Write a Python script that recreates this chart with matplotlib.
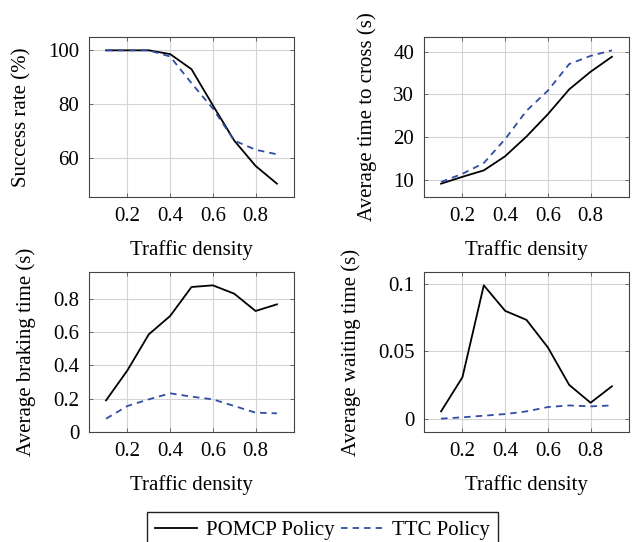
import numpy as np
import matplotlib
matplotlib.use("Agg")
import matplotlib.pyplot as plt

# traffic density on x axis
density = [0.1, 0.2, 0.3, 0.4, 0.5, 0.6, 0.7, 0.8, 0.9]

# success rate (%)
success_pomcp = [100, 100, 100, 98.6, 93.0, 79.6, 66.5, 57.1, 50.5]
success_ttc = [100, 100, 100, 97.7, 87.8, 78.4, 66.5, 63.1, 61.4]

# average time to cross (s)
cross_pomcp = [9.2, 10.8, 12.3, 15.6, 20.2, 25.4, 31.2, 35.3, 38.8]
cross_ttc = [9.6, 11.5, 14.0, 19.6, 26.2, 30.9, 37.1, 39.0, 40.3]

# average braking time (s)
brake_pomcp = [0.19, 0.37, 0.586, 0.696, 0.87, 0.88, 0.83, 0.726, 0.766]
brake_ttc = [0.08, 0.156, 0.196, 0.232, 0.212, 0.196, 0.156, 0.116, 0.112]

# average waiting time (s)
wait_pomcp = [0.0054, 0.0307, 0.0988, 0.0799, 0.0732, 0.0528, 0.025, 0.0118, 0.024]
wait_ttc = [0.0, 0.001, 0.0022, 0.0034, 0.0054, 0.0086, 0.0098, 0.0091, 0.0098]

xticks = [0.2, 0.4, 0.6, 0.8]

plt.rcParams["font.family"] = ["Liberation Serif", "DejaVu Serif"]
plt.rcParams["font.size"] = 15

BLUE = "#2f4ea3"

fig = plt.figure(figsize=(6.32, 5.42), dpi=100)

W, H = 205 / 632, 160 / 542
panels = [
    (89 / 632, 1 - 197 / 542, success_pomcp, success_ttc, "Success rate (%)",
     [60, 80, 100], ["60", "80", "100"], None),
    (424 / 632, 1 - 197 / 542, cross_pomcp, cross_ttc, "Average time to cross (s)",
     [10, 20, 30, 40], ["10", "20", "30", "40"], None),
    (89 / 632, 1 - 432 / 542, brake_pomcp, brake_ttc, "Average braking time (s)",
     [0, 0.2, 0.4, 0.6, 0.8], ["0", "0.2", "0.4", "0.6", "0.8"], (0, 0.96)),
    (424 / 632, 1 - 432 / 542, wait_pomcp, wait_ttc, "Average waiting time (s)",
     [0, 0.05, 0.1], ["0", "0.05", "0.1"], None),
]

for left, bottom, pomcp, ttc, ylabel, yt, ytl, ylim in panels:
    ax = fig.add_axes([left, bottom, W, H])
    ax.plot(density, pomcp, color="black", lw=1.3, label="POMCP Policy")
    ax.plot(density, ttc, color=BLUE, lw=1.3, dashes=(3.6, 2.8), label="TTC Policy")

    ax.set_xlim(0.02, 0.98)
    if ylim is None:
        lo = min(min(pomcp), min(ttc))
        hi = max(max(pomcp), max(ttc))
        pad = 0.1 * (hi - lo)
        ax.set_ylim(lo - pad, hi + pad)
    else:
        ax.set_ylim(*ylim)

    ax.set_xticks(xticks)
    ax.set_xticklabels(["0.2", "0.4", "0.6", "0.8"])
    ax.set_yticks(yt)
    ax.set_yticklabels(ytl)
    ax.grid(True, color="#d4d4d4", lw=0.8)
    ax.set_axisbelow(True)
    ax.tick_params(direction="in", length=3, width=0.6, color="#555555",
                   top=True, right=True, pad=7)
    for sp in ax.spines.values():
        sp.set_color("#444444")
        sp.set_linewidth(0.8)
    ax.set_xlabel("Traffic density", labelpad=10)
    ax.set_ylabel(ylabel, labelpad=12)

handles, labels = ax.get_legend_handles_labels()
fig.legend(handles, labels, loc="upper center", bbox_to_anchor=(0.51, 1 - 512 / 542),
           ncol=2, frameon=True, fancybox=False, edgecolor="#222222",
           handlelength=2.0, handletextpad=0.45, columnspacing=0.3,
           borderpad=0.4, borderaxespad=0, framealpha=1)

fig.savefig("out.png", dpi=100)
